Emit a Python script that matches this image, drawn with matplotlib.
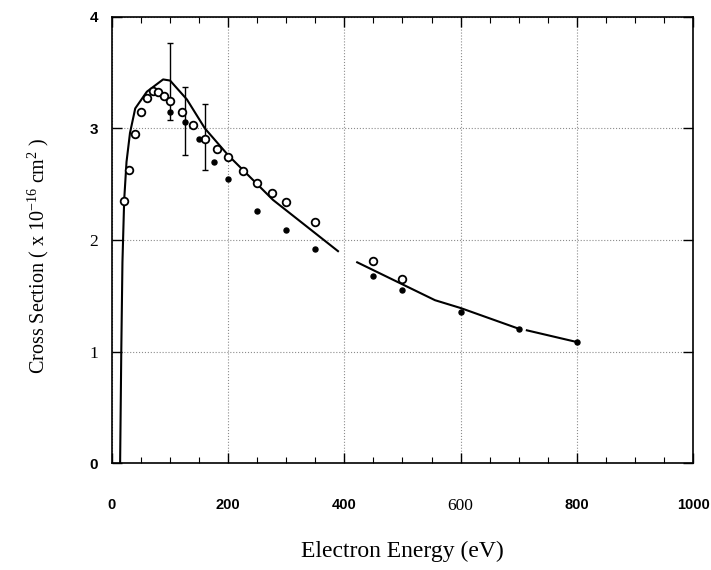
import matplotlib

matplotlib.use("Agg")
import numpy as np
from matplotlib import pyplot as plt
from matplotlib.ticker import MultipleLocator

# * -------------------------------------------------------------------------------- * #
# * DATA

# open circles
open_energy = [20, 30, 40, 50, 60, 70, 80, 90, 100, 120, 140, 160, 180, 200,
               225, 250, 275, 300, 350, 450, 500]
open_sigma = [2.35, 2.63, 2.95, 3.15, 3.27, 3.34, 3.33, 3.29, 3.25, 3.15, 3.03,
              2.91, 2.82, 2.74, 2.62, 2.51, 2.42, 2.34, 2.16, 1.81, 1.65]

# filled dots
filled_energy = [100, 125, 150, 175, 200, 250, 300, 350, 450, 500, 600, 700, 800]
filled_sigma = [3.15, 3.06, 2.91, 2.70, 2.55, 2.26, 2.09, 1.92, 1.68, 1.55,
                1.35, 1.20, 1.085]

# error bars (energy, lower end, upper end)
err_energy = [100, 125, 160]
err_low = [3.08, 2.76, 2.63]
err_high = [3.77, 3.37, 3.22]

# theory curve, NaN marks the breaks in the printed line
curve_energy = [14, 16, 18, 21, 25, 31, 40, 60, 88, 100, 129, 160, 200, 277,
                389, np.nan, 422, 556, 600, 697, np.nan, 714, 800]
curve_sigma = [0.0, 1.0, 1.8, 2.36, 2.7, 2.96, 3.18, 3.33, 3.44, 3.43, 3.26,
               3.0, 2.76, 2.36, 1.90, np.nan, 1.80, 1.46, 1.39, 1.21, np.nan,
               1.19, 1.085]

x_ticks = [0, 200, 400, 600, 800, 1000]
y_ticks = [0, 1, 2, 3, 4]

# * -------------------------------------------------------------------------------- * #
# * PLOT

fig = plt.figure(figsize=(7.11, 5.70), dpi=100)
ax = fig.add_axes((0.1575, 0.1877, 0.8172, 0.7825))

ax.plot(curve_energy, curve_sigma, "-", color="black", lw=1.5)

ax.errorbar(
    x=err_energy,
    y=[(lo + hi) / 2 for lo, hi in zip(err_low, err_high)],
    yerr=[[(hi - lo) / 2 for lo, hi in zip(err_low, err_high)]] * 2,
    fmt="none",
    ecolor="black",
    elinewidth=1.0,
    capsize=2.5,
    capthick=1.0,
)
ax.plot(open_energy, open_sigma, "o", mfc="white", mec="black", mew=1.3,
        ms=5.5, zorder=3)
ax.plot(filled_energy, filled_sigma, "o", color="black", ms=3.6, zorder=3)

# Axes and ticks
ax.set_xlim(0, 1000)
ax.set_ylim(0, 4)
ax.set_xticks(x_ticks)
ax.set_yticks(y_ticks)
ax.xaxis.set_minor_locator(MultipleLocator(50))
ax.tick_params(which="both", direction="in", top=True, right=True)
ax.tick_params(which="major", length=7, width=1.0)
ax.tick_params(which="minor", length=4, width=0.8)
ax.tick_params(axis="x", pad=25)
ax.tick_params(axis="y", pad=10)
for spine in ax.spines.values():
    spine.set_linewidth(1.2)

ax.grid(which="major", ls=":", color="0.55", lw=0.8)

for lab in ax.get_xticklabels():
    if lab.get_text() == "600":
        lab.set_fontfamily("Liberation Serif")
        lab.set_fontsize(12.5)
    else:
        lab.set_fontfamily("Liberation Sans")
        lab.set_fontweight("bold")
        lab.set_fontsize(10.5)
for lab in ax.get_yticklabels():
    if lab.get_text() in ("1", "2"):
        lab.set_fontfamily("Liberation Serif")
        lab.set_fontsize(12.5)
    else:
        lab.set_fontfamily("Liberation Sans")
        lab.set_fontweight("bold")
        lab.set_fontsize(11)

# Labels
ax.set_xlabel("Electron Energy (eV)", family="Liberation Serif", fontsize=17,
              va="center")
ax.xaxis.set_label_coords(0.499, -0.199)
ax.set_ylabel(
    r"Cross Section ( x 10$^{\mathregular{-16}}$ cm$^{\mathregular{2}}$ )",
    family="Liberation Serif",
    fontsize=14.5,
    va="center",
)
ax.yaxis.set_label_coords(-0.127, 0.464)

fig.savefig("out.png", dpi=100)
